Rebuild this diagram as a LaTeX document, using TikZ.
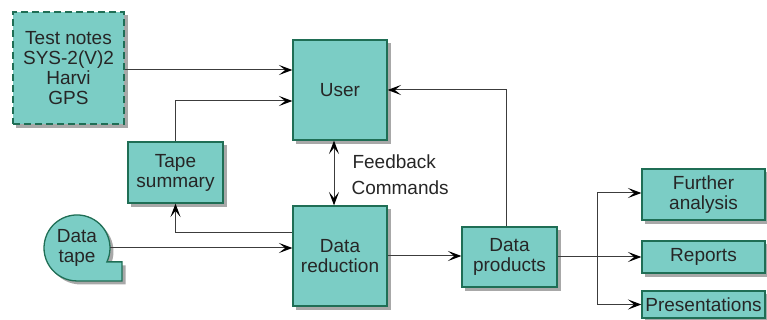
\documentclass[tikz,border=0pt]{standalone}
\usepackage{fontspec}
\setmainfont{Liberation Sans}
\usetikzlibrary{arrows.meta}
\definecolor{boxfill}{HTML}{7BCDC5}
\definecolor{boxedge}{HTML}{1F6E55}
\definecolor{wirec}{HTML}{3C3C3C}
\definecolor{shadowc}{HTML}{A8A8A8}
\begin{document}
\begin{tikzpicture}[x=1pt,y=1pt,
  font=\fontsize{19}{20}\selectfont,
  blk/.style={draw=boxedge,line width=1.3pt,fill=boxfill,
    align=center,inner sep=0pt,text=black!85},
  shadowbox/.style={fill=shadowc,draw=none,inner sep=0pt},
  arr/.style={draw=wirec,line width=1pt,-{Stealth[scale=1.8,inset=3.5pt,color=black]}},
  biarr/.style={draw=wirec,line width=1pt,{Stealth[scale=1.8,inset=3.5pt,color=black]}-{Stealth[scale=1.8,inset=3.5pt,color=black]}},
  wire/.style={draw=wirec,line width=1pt}]
\useasboundingbox (0,0) rectangle (767,320);

% shadows, offset down and to the right
\node[shadowbox,minimum width=112pt,minimum height=113pt] (s1) at (72,248.5) {};
\node[shadowbox,minimum width=95pt,minimum height=101pt] (s2) at (343.5,226.5) {};
\node[shadowbox,minimum width=96pt,minimum height=62pt] (s3) at (179,144) {};
\node[shadowbox,minimum width=95pt,minimum height=101pt] (s4) at (343.5,60.5) {};
\node[shadowbox,minimum width=96pt,minimum height=61pt] (s5) at (513,59.5) {};
\node[shadowbox,minimum width=124pt,minimum height=52pt] (s6) at (707,122) {};
\node[shadowbox,minimum width=124pt,minimum height=33pt] (s7) at (707,59.5) {};
\node[shadowbox,minimum width=124pt,minimum height=28pt] (s8) at (707,12) {};
\fill[shadowc,shift={(3.5pt,-3.5pt)}]
  (106.9,58.1) arc[start angle=-25,end angle=270,radius=33] -- (122,39) -- (122,58.1) -- cycle;

% blocks
\node[blk,dash pattern=on 7pt off 4pt,minimum width=111pt,minimum height=112pt]
  (tnotes) at (68.5,252) {Test notes\\SYS-2(V)2\\Harvi\\GPS};
\node[blk,minimum width=94pt,minimum height=100pt] (user) at (340,230) {User};
\node[blk,minimum width=95pt,minimum height=61pt] (tsum) at (175.5,147.5) {Tape\\summary};
\node[blk,minimum width=94pt,minimum height=100pt] (dred) at (340,64) {Data\\reduction};
\node[blk,minimum width=95pt,minimum height=60pt] (dprod) at (509.5,63) {Data\\products};
\node[blk,minimum width=123pt,minimum height=51pt] (further) at (703.5,125.5) {Further\\analysis};
\node[blk,minimum width=123pt,minimum height=32pt] (reports) at (703.5,63) {Reports};
\node[blk,minimum width=123pt,minimum height=27pt] (pres) at (703.5,15.5) {Presentations};

% data tape: round reel with a square tail at lower right
\path[draw=boxedge,line width=1.3pt,fill=boxfill]
  (106.9,58.1) arc[start angle=-25,end angle=270,radius=33] -- (122,39) -- (122,58.1) -- cycle;
\node[circle,minimum size=66pt,inner sep=0pt,align=center,text=black!85] (dtape) at (77,72) {Data\\tape};

% connectors
\coordinate (tn) at ([yshift=20]user.west);
\draw[arr] (tnotes.east |- tn) -- (tn);
\draw[arr] (tsum.north) |- ([yshift=-11]user.west);
\draw[arr] ([yshift=23]dred.west) -| (tsum.south);
\draw[arr] (dtape.east) -- (dtape.east -| dred.west);
\draw[biarr] ([xshift=-6]user.south) -- ([xshift=-6]dred.north);
\node[anchor=west,text=black!85] (fb) at (349,158) {Feedback};
\node[anchor=west,text=black!85] (cmd) at (348,132) {Commands};
\draw[arr] (dred.east) -- (dred.east -| dprod.west);
\draw[arr] ([xshift=-3]dprod.north) |- (user.east);
\coordinate (split) at (597,63);
\draw[wire] (dprod.east) -- (split);
\draw[arr] (split) |- ([yshift=1.5]further.west);
\draw[arr] (split) -- (reports.west);
\draw[arr] (split) |- (pres.west);
\end{tikzpicture}
\end{document}
